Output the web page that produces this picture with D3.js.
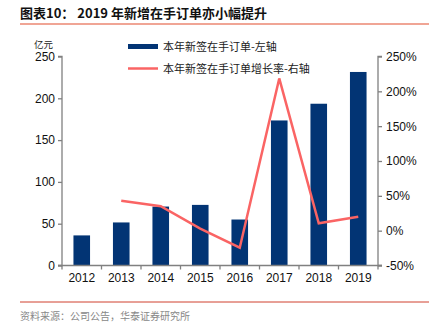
<!DOCTYPE html>
<html><head><meta charset="utf-8">
<script src="https://cdn.jsdelivr.net/npm/d3@7"></script>
<style>
body{margin:0;background:#fff;}
svg{display:block;font-family:"Liberation Sans",Arial,sans-serif;}
</style></head>
<body>
<svg id="c" width="434" height="326"></svg>
<script>
const years = ["2012","2013","2014","2015","2016","2017","2018","2019"];
const orders = [36, 51.5, 70.5, 72.5, 55, 173.5, 193.5, 231.5];
const growth = [null, 43, 35, 3, -24.5, 218.5, 10.5, 20];
const leftTicks = [0, 50, 100, 150, 200, 250];
const rightTicks = [-50, 0, 50, 100, 150, 200, 250];
const barLabel = "本年新签在手订单-左轴";
const lineLabel = "本年新签在手订单增长率-右轴";

const svg = d3.select("#c");
const L = 62, R = 378, T = 56.5, B = 265.5;
const x = d3.scaleBand().domain(years).range([L, R]).paddingInner(0.58).paddingOuter(0.29);
const xb = d3.scaleBand().domain(years).range([L, R]);
const yL = d3.scaleLinear().domain([0, 250]).range([B, T]);
const yR = d3.scaleLinear().domain([-50, 250]).range([B, T]);
const cjk = '"Noto Sans CJK SC","Liberation Sans",sans-serif';

// title
svg.append("text").attr("x", 20).attr("y", 18).attr("font-size", 13).attr("font-weight", "bold")
  .attr("font-family", cjk).attr("fill", "#111").text("图表10：  2019 年新增在手订单亦小幅提升");
svg.append("line").attr("x1", 20).attr("x2", 429).attr("y1", 24).attr("y2", 24)
  .attr("stroke", "#f0a595").attr("stroke-width", 2);

// bars
svg.append("g").selectAll("rect").data(orders).join("rect")
  .attr("x", (d, i) => x(years[i])).attr("width", x.bandwidth())
  .attr("y", d => yL(d)).attr("height", d => yL(0) - yL(d))
  .attr("fill", "#023474");

// line
const pts = growth.map((g, i) => ({g, i})).filter(d => d.g !== null);
svg.append("path").datum(pts)
  .attr("d", d3.line().x(d => xb(years[d.i]) + xb.bandwidth() / 2).y(d => yR(d.g)))
  .attr("fill", "none").attr("stroke", "#fa6464").attr("stroke-width", 2.5);

// axes
const axC = "#808080";
const gL = svg.append("g").attr("transform", `translate(${L},0)`)
  .call(d3.axisLeft(yL).tickValues(leftTicks).tickSize(4).tickPadding(3));
const gR = svg.append("g").attr("transform", `translate(${R},0)`)
  .call(d3.axisRight(yR).tickValues(rightTicks).tickSize(4).tickPadding(4).tickFormat(d => d + "%"));
const gX = svg.append("g").attr("transform", `translate(0,${B})`)
  .call(d3.axisBottom(xb).tickSize(0).tickPadding(8));
gX.selectAll(".domain").remove();
gX.append("line").attr("x1", L - 4).attr("x2", R + 4).attr("stroke", axC).attr("stroke-width", 1.3);
gX.append("g").selectAll("line").data(years.concat(["end"])).join("line")
  .attr("x1", (d, i) => L + i * xb.bandwidth()).attr("x2", (d, i) => L + i * xb.bandwidth())
  .attr("y1", 0).attr("y2", 4).attr("stroke", axC).attr("stroke-width", 1.3);
[gL, gR, gX].forEach(g => {
  g.selectAll(".domain").attr("stroke", axC).attr("stroke-width", 1.3);
  g.selectAll(".tick line").attr("stroke", axC).attr("stroke-width", 1.3);
  g.selectAll("text").attr("font-size", 12).attr("fill", "#111").attr("font-family", '"Liberation Sans",Arial,sans-serif');
});
gL.select(".domain").attr("d", `M-4,${T}H0V${B}H-4`);
gR.select(".domain").attr("d", `M4,${T}H0V${B}H4`);

// unit
svg.append("text").attr("x", 34).attr("y", 47.5).attr("font-size", 9.5).attr("font-family", cjk)
  .attr("fill", "#222").text("亿元");

// legend
svg.append("rect").attr("x", 128).attr("y", 44).attr("width", 30).attr("height", 5).attr("fill", "#023474");
svg.append("text").attr("x", 163).attr("y", 50.5).attr("font-size", 11).attr("font-family", cjk)
  .attr("fill", "#222").text(barLabel);
svg.append("line").attr("x1", 128).attr("x2", 158).attr("y1", 68.5).attr("y2", 68.5)
  .attr("stroke", "#fa6464").attr("stroke-width", 2.5);
svg.append("text").attr("x", 163).attr("y", 72.5).attr("font-size", 11).attr("font-family", cjk)
  .attr("fill", "#222").text(lineLabel);

// footer
svg.append("line").attr("x1", 20).attr("x2", 429).attr("y1", 302).attr("y2", 302)
  .attr("stroke", "#d0402f").attr("stroke-width", 1);
svg.append("text").attr("x", 20).attr("y", 320).attr("font-size", 10).attr("font-family", cjk)
  .attr("fill", "#888").text("资料来源：公司公告，华泰证券研究所");
</script>
</body></html>
